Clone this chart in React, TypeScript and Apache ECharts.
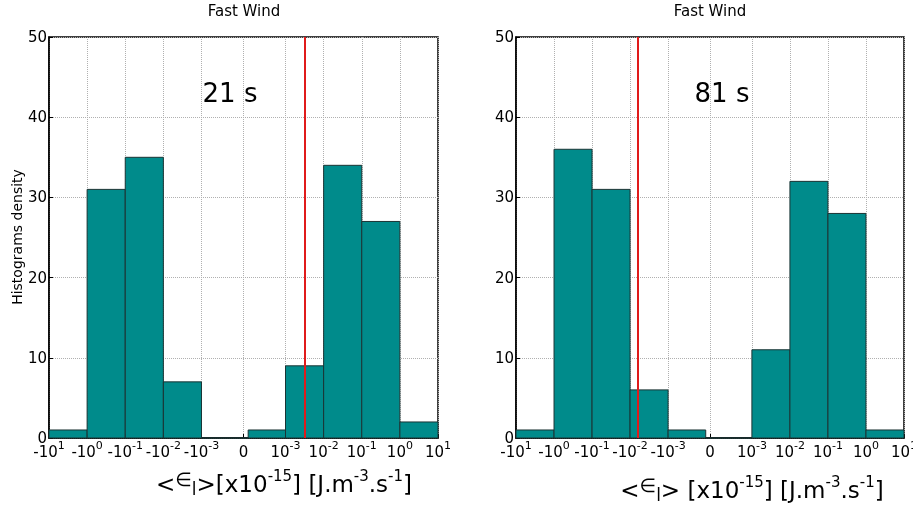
import React, { useEffect, useRef } from "react";
import * as echarts from "echarts";

// Axis tick positions (in axis units) and their labels ("^" marks an exponent)
const tickPositions = [0, 0.98, 1.96, 2.94, 3.92, 5, 6.08, 7.06, 8.04, 9.02, 10];
const tickLabels = ["-10^1", "-10^0", "-10^-1", "-10^-2", "-10^-3", "0", "10^-3", "10^-2", "10^-1", "10^0", "10^1"];

// Histogram bins, panel 1 (21 s)
const leftEdges = [0, 0.98, 1.96, 2.94, 3.92, 5.12, 6.08, 7.06, 8.04, 9.02, 10];
const leftCounts = [1, 31, 35, 7, 0, 1, 9, 34, 27, 2];
const leftMarker = 6.57;

// Histogram bins, panel 2 (81 s)
const rightEdges = [0, 0.98, 1.96, 2.94, 3.92, 4.89, 6.08, 7.06, 8.04, 9.02, 10];
const rightCounts = [1, 36, 31, 6, 1, 0, 11, 32, 28, 1];
const rightMarker = 3.14;

const yTicks = [0, 10, 20, 30, 40, 50];
const panelTitle = "Fast Wind";
const panelLabels = ["21 s", "81 s"];
const yName = "Histograms density";

const FONT = "DejaVu Sans";
const BAR = "#008b8b";

function toRich(s: string) {
  const i = s.indexOf("^");
  if (i < 0) return "{b|" + s + "}";
  return "{b|" + s.slice(0, i) + "}{s|" + s.slice(i + 1) + "}";
}

function binData(edges: number[], counts: number[]) {
  return counts.map((c, i) => [edges[i], edges[i + 1], c]);
}

export default function App() {
  const ref = useRef<HTMLDivElement>(null);
  useEffect(() => {
    if (!ref.current) return;
    const chart = echarts.init(ref.current, null, { renderer: "svg" });
    const grids = [
      { left: 49, top: 37, width: 389, height: 401 },
      { left: 516, top: 37, width: 388, height: 401 },
    ];
    const xAxis = grids.map((_, gi) => ({
      type: "value",
      gridIndex: gi,
      min: 0,
      max: 10,
      axisLine: { show: true, lineStyle: { color: "#000", width: 1.5 } },
      axisTick: { show: true, inside: true, length: 4, customValues: tickPositions, lineStyle: { color: "#000" } },
      splitLine: { show: true, lineStyle: { color: "#b0b0b0", type: "dotted", width: 1 } },
      axisLabel: {
        customValues: tickPositions,
        margin: 2,
        color: "#000",
        fontFamily: FONT,
        hideOverlap: false,
        formatter: (v: number) => {
          const idx = tickPositions.findIndex((p) => Math.abs(p - v) < 1e-6);
          return idx >= 0 ? toRich(tickLabels[idx]) : "";
        },
        rich: {
          b: { fontSize: 15, fontFamily: FONT, color: "#000", lineHeight: 19, verticalAlign: "bottom" },
          s: { fontSize: 11, fontFamily: FONT, color: "#000", lineHeight: 12, verticalAlign: "top" },
        },
      },
    }));
    const yAxis = grids.map((_, gi) => ({
      type: "value",
      gridIndex: gi,
      min: 0,
      max: 50,
      interval: 10,
      axisLine: { show: true, lineStyle: { color: "#000", width: 1.5 } },
      axisTick: { show: true, inside: true, length: 4, lineStyle: { color: "#000" } },
      splitLine: { show: true, lineStyle: { color: "#b0b0b0", type: "dotted", width: 1 } },
      axisLabel: {
        margin: 2,
        color: "#000",
        fontSize: 15,
        fontFamily: FONT,
        formatter: (v: number) => (yTicks.includes(v) ? String(v) : ""),
      },
    }));

    const mkSeries = (gi: number, edges: number[], counts: number[], marker: number) => ({
      type: "custom",
      xAxisIndex: gi,
      yAxisIndex: gi,
      data: binData(edges, counts),
      encode: { x: [0, 1], y: 2 },
      renderItem: (params: any, api: any) => {
        const x0 = api.value(0);
        const x1 = api.value(1);
        const h = api.value(2);
        const p0 = api.coord([x0, h]);
        const p1 = api.coord([x1, 0]);
        return {
          type: "rect",
          shape: { x: p0[0], y: p0[1], width: p1[0] - p0[0], height: p1[1] - p0[1] },
          style: { fill: BAR, stroke: "#1b3434", lineWidth: 1 },
        };
      },
      markLine: {
        silent: true,
        symbol: ["none", "none"],
        label: { show: false },
        lineStyle: { color: "#e01b1b", width: 2, type: "solid" },
        data: [{ xAxis: marker }],
      },
      z: 3,
    });

    const richName = {
      b: { fontSize: 23, fontFamily: FONT, color: "#000", lineHeight: 30, verticalAlign: "middle" },
      s: { fontSize: 15, fontFamily: FONT, color: "#000", lineHeight: 15, verticalAlign: "middle", padding: [0, 0, 16, 0] },
      e: { fontSize: 19, fontFamily: FONT, color: "#000", lineHeight: 19, verticalAlign: "middle", padding: [0, 0, 10, 0] },
      l: { fontSize: 17, fontFamily: FONT, color: "#000", lineHeight: 17, verticalAlign: "middle", padding: [9, 0, 0, 0] },
    };
    const nameText1 = "{b|<}{e|∈}{l|l}{b|>[x10}{s|-15}{b|] [J.m}{s|-3}{b|.s}{s|-1}{b|]}";
    const nameText2 = "{b|<}{e|∈}{l|l}{b|> [x10}{s|-15}{b|] [J.m}{s|-3}{b|.s}{s|-1}{b|]}";

    chart.setOption({
      animation: false,
      grid: grids.map((g) => ({
        ...g,
        show: true,
        borderColor: "#000",
        borderWidth: 1.5,
        backgroundColor: "transparent",
        containLabel: false,
        outerBoundsMode: "none",
      })),
      xAxis,
      yAxis,
      series: [mkSeries(0, leftEdges, leftCounts, leftMarker), mkSeries(1, rightEdges, rightCounts, rightMarker)],
      graphic: [
        { type: "text", x: 244, y: 11, style: { text: panelTitle, font: `15px "${FONT}"`, fill: "#000", align: "center", verticalAlign: "middle" } },
        { type: "text", x: 710, y: 11, style: { text: panelTitle, font: `15px "${FONT}"`, fill: "#000", align: "center", verticalAlign: "middle" } },
        { type: "text", x: 230, y: 93, z: 10, style: { text: panelLabels[0], font: `26px "${FONT}"`, fill: "#000", align: "center", verticalAlign: "middle" } },
        { type: "text", x: 722, y: 93, z: 10, style: { text: panelLabels[1], font: `26px "${FONT}"`, fill: "#000", align: "center", verticalAlign: "middle" } },
        { type: "text", x: 17, y: 237, rotation: Math.PI / 2, style: { text: yName, font: `14px "${FONT}"`, fill: "#000", align: "center", verticalAlign: "middle" } },
        { type: "text", x: 284, y: 484, style: { text: nameText1, rich: richName, align: "center", verticalAlign: "middle" } },
        { type: "text", x: 752, y: 490, style: { text: nameText2, rich: richName, align: "center", verticalAlign: "middle" } },
      ],
    });
    return () => chart.dispose();
  }, []);
  return <div ref={ref} style={{ position: "fixed", left: 0, top: 0, width: 913, height: 506 }} />;
}
